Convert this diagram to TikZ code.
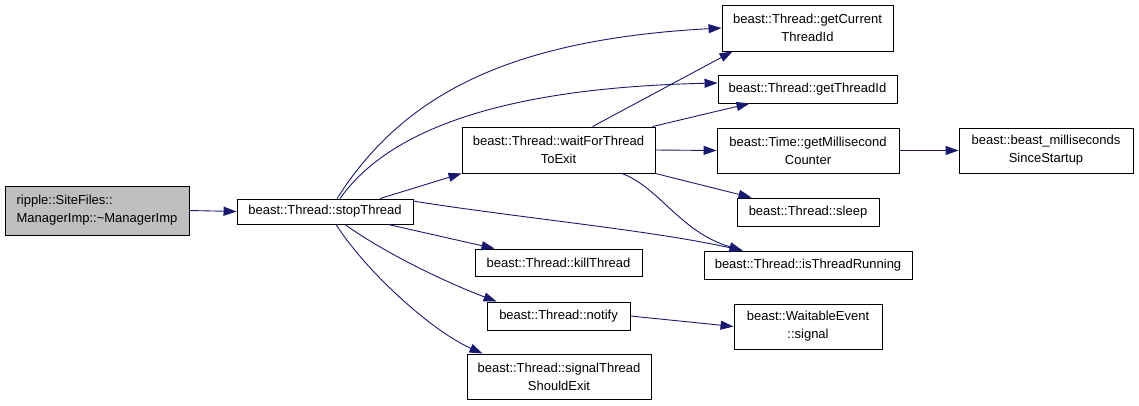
\documentclass[tikz,border=0pt]{standalone}
\usepackage{fontspec}
\setmainfont{Liberation Sans}
\usetikzlibrary{arrows.meta}
\definecolor{edgeblue}{RGB}{25,25,112}
\definecolor{rootgray}{RGB}{191,191,191}
\begin{document}
\begin{tikzpicture}[x=1pt,y=-1pt,
  fn/.style={draw=black,line width=0.9pt,fill=white,inner sep=0pt,align=center,
    font=\fontsize{13}{18}\selectfont},
  call/.style={draw=edgeblue,line width=0.9pt,-{Triangle[length=13pt,width=9pt]},fill=none}]
\useasboundingbox (0,0) rectangle (1139,405);
\node[fn,fill=rootgray,align=left,minimum width=184pt,minimum height=49pt] (ripple) at (97,210.5) {ripple::SiteFiles::\\ManagerImp::\textasciitilde ManagerImp};
\node[fn,minimum width=176pt,minimum height=25pt] (stop) at (325,211.5) {beast::Thread::stopThread};
\node[fn,minimum width=193pt,minimum height=46pt] (wait) at (558.5,150) {beast::Thread::waitForThread\\ToExit};
\node[fn,minimum width=171pt,minimum height=46pt] (getcur) at (807.5,28) {beast::Thread::getCurrent\\ThreadId};
\node[fn,minimum width=179pt,minimum height=28pt] (gettid) at (807.5,89) {beast::Thread::getThreadId};
\node[fn,minimum width=182pt,minimum height=45pt] (getms) at (808,150.5) {beast::Time::getMillisecond\\Counter};
\node[fn,minimum width=174pt,minimum height=45pt] (bms) at (1046,150.5) {beast::beast\_milliseconds\\SinceStartup};
\node[fn,minimum width=142pt,minimum height=28pt] (sleep) at (808,212) {beast::Thread::sleep};
\node[fn,minimum width=208pt,minimum height=28pt] (isrun) at (808,265) {beast::Thread::isThreadRunning};
\node[fn,minimum width=167pt,minimum height=27pt] (kill) at (558.5,262.5) {beast::Thread::killThread};
\node[fn,minimum width=143pt,minimum height=28pt] (notify) at (558.5,316) {beast::Thread::notify};
\node[fn,minimum width=148pt,minimum height=45pt] (signal) at (808,326.5) {beast::WaitableEvent\\::signal};
\node[fn,minimum width=184pt,minimum height=45pt] (sig) at (559,376.5) {beast::Thread::signalThread\\ShouldExit};

\draw[call] (ripple.east) -- (stop.west);
\draw[call] ([xshift=55pt]stop.north) -- (wait.south west);
\draw[call] ([xshift=12pt]stop.north) .. controls (400,100) and (500,40) .. (getcur.west);
\draw[call] ([xshift=15pt]stop.north) .. controls (385,135) and (490,88) .. ([yshift=6pt]gettid.west);
\draw[call] ([xshift=88pt,yshift=-2.5pt]stop.north) .. controls (520,218) and (650,230) .. ([xshift=39pt]isrun.north west);
\draw[call] ([xshift=63pt]stop.south) -- ([xshift=20pt]kill.north west);
\draw[call] ([xshift=20pt]stop.south) .. controls (380,250) and (440,280) .. ([xshift=10pt]notify.north west);
\draw[call] ([xshift=11pt]stop.south) .. controls (365,270) and (430,330) .. ([xshift=16pt]sig.north west);

\draw[call] ([xshift=34pt]wait.north) -- ([xshift=11pt]getcur.south west);
\draw[call] ([xshift=-3pt]wait.north east) -- ([xshift=32pt]gettid.south west);
\draw[call] (wait.east) -- (getms.west);
\draw[call] (wait.south east) -- ([xshift=15pt]sleep.north west);
\draw[call] ([xshift=63.5pt]wait.south) .. controls (660,188) and (680,232) .. ([xshift=39pt]isrun.north west);

\draw[call] (getms.east) -- (bms.west);
\draw[call] (notify.east) -- (signal.west);
\end{tikzpicture}
\end{document}
